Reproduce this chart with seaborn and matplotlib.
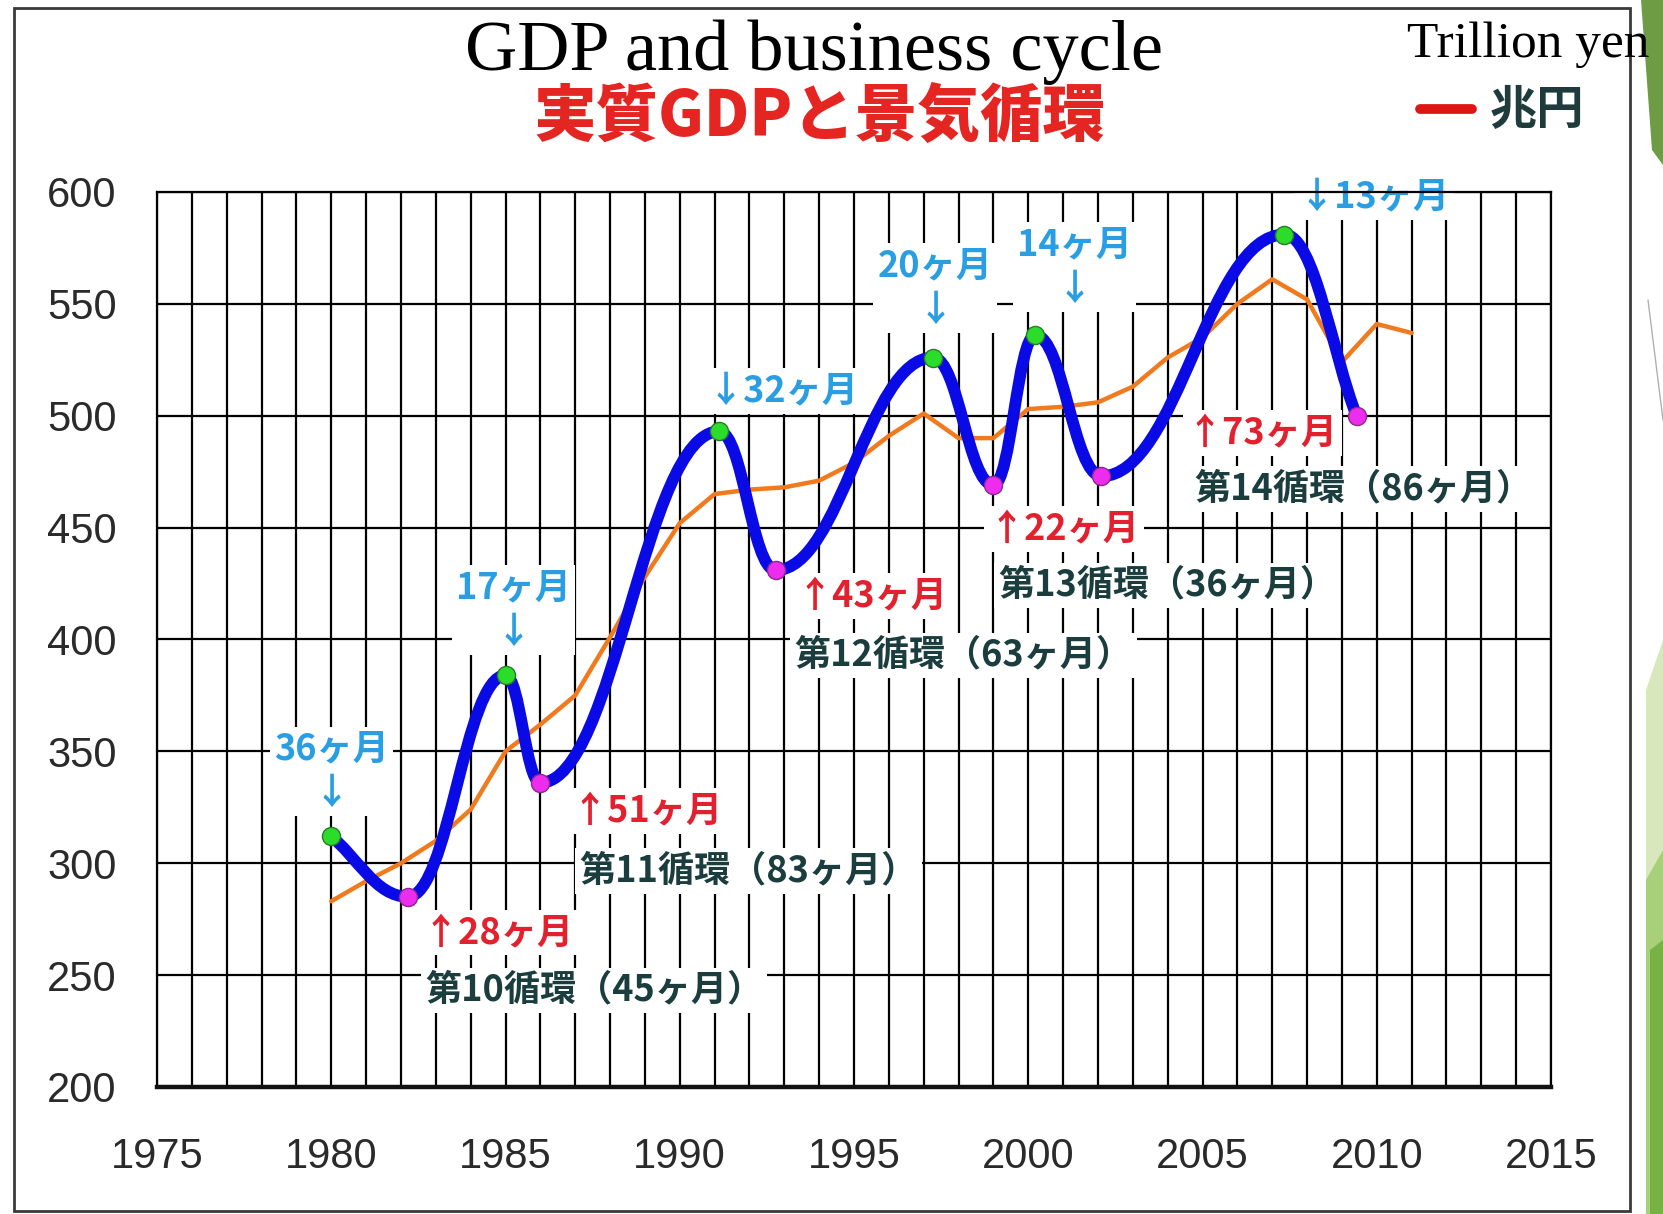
import matplotlib
matplotlib.use("Agg")
import matplotlib.pyplot as plt
import seaborn as sns
from matplotlib.path import Path
from matplotlib.patches import PathPatch, Polygon, Rectangle
from matplotlib.lines import Line2D

# 景気の山と谷 (実質GDP、兆円)
peak_years = [1980.0, 1985.0, 1991.13, 1997.27, 2000.2, 2007.35]
peak_vals = [312, 384, 493, 526, 536, 581]
trough_years = [1982.2, 1986.0, 1992.75, 1999.0, 2002.1, 2009.42]
trough_vals = [285, 336, 431, 469, 473, 500]

# 実質GDP (年次)
gdp_years = list(range(1980, 2012))
gdp_vals = [283, 292, 300, 310, 324, 350, 362, 375, 401, 428, 452, 465,
            467, 468, 471, 479, 491, 501, 490, 490, 503, 504, 506, 513,
            526, 535, 550, 561, 552, 524, 541, 537]

# 拡張期間 (山の上) と 後退期間 (谷の下)
peak_labels = ["36ヶ月\n↓", "17ヶ月\n↓", "↓32ヶ月", "20ヶ月\n↓", "14ヶ月\n↓", "↓13ヶ月"]
trough_labels = ["↑28ヶ月", "↑51ヶ月", "↑43ヶ月", "↑22ヶ月", "↑73ヶ月"]
cycle_labels = ["第10循環（45ヶ月）", "第11循環（83ヶ月）", "第12循環（63ヶ月）",
                "第13循環（36ヶ月）", "第14循環（86ヶ月）"]

W, H = 1663, 1214
sns.set_theme(style="white")
plt.rcParams["font.family"] = ["Noto Sans CJK JP", "DejaVu Sans"]

fig = plt.figure(figsize=(W / 100, H / 100), dpi=100)
ax = fig.add_axes([157 / W, 1 - 1087 / H, (1551 - 157) / W, (1087 - 192) / H])

# 山と谷を交互に並べた青い曲線
pts = sorted(zip(peak_years + trough_years, peak_vals + trough_vals))
k = 0.42
verts = [pts[0]]
codes = [Path.MOVETO]
for i in range(len(pts) - 1):
    (x0, y0), (x1, y1) = pts[i], pts[i + 1]
    dx = x1 - x0
    c1 = (x0 + dx / 3, y0 + (y1 - y0) / 3) if i == 0 else (x0 + k * dx, y0)
    c2 = (x1 - dx / 3, y1 - (y1 - y0) / 3) if i == len(pts) - 2 else (x1 - k * dx, y1)
    verts += [c1, c2, (x1, y1)]
    codes += [Path.CURVE4] * 3

sns.lineplot(x=gdp_years, y=gdp_vals, color="#f07a1e", lw=3.2, ax=ax, zorder=3)
ax.add_patch(PathPatch(Path(verts, codes), fill=False, edgecolor="#0a0ae6",
                       lw=8.5, capstyle="round", joinstyle="round", zorder=4))
sns.scatterplot(x=peak_years, y=peak_vals, color="#2bdc2b", edgecolor="#2a7a2a",
                s=170, linewidth=1, ax=ax, zorder=5)
sns.scatterplot(x=trough_years, y=trough_vals, color="#ee2cee", edgecolor="#8a2a8a",
                s=170, linewidth=1, ax=ax, zorder=5)

box = dict(facecolor="white", edgecolor="none", pad=3)
peak_pos = [(1980.0, 341), (1985.23, 413), (1992.96, 511), (1997.33, 557),
            (2001.33, 566.5), (2009.92, 597.6)]
for (x, y), lab in zip(peak_pos, peak_labels):
    ax.text(x, y, lab, ha="center", va="center", fontsize=26, fontweight="bold",
            color="#2a9ee2", linespacing=1.25, bbox=box, zorder=2.5)

trough_pos = [(1984.8, 269), (1989.06, 323.5), (1995.52, 419.5), (2001.03, 449.4), (2006.72, 492.2)]
for (x, y), lab in zip(trough_pos, trough_labels):
    ax.text(x, y, lab, ha="center", va="center", fontsize=26, fontweight="bold",
            color="#e3202e", bbox=box, zorder=2.5)

cycle_pos = [(1987.54, 243.2), (1991.96, 296.4), (1998.14, 392.9), (2003.98, 424.2), (2009.61, 467.4)]
for (x, y), lab in zip(cycle_pos, cycle_labels):
    ax.text(x, y, lab, ha="center", va="center", fontsize=26, fontweight="bold",
            color="#1b3d3d", bbox=box, zorder=2.5)

ax.set_xlim(1975, 2015)
ax.set_ylim(200, 600)
ax.set_xticks(range(1975, 2016, 5))
ax.set_xticks(range(1975, 2016), minor=True)
ax.set_yticks(range(200, 601, 50))
ax.set_axisbelow(True)
ax.grid(True, which="both", axis="x", color="black", lw=1.6)
ax.grid(True, which="major", axis="y", color="black", lw=1.6)
ax.tick_params(axis="both", which="both", length=0, labelsize=30,
               labelcolor="#2a2a2a", labelfontfamily="Liberation Sans")
ax.tick_params(axis="y", pad=29)
ax.tick_params(axis="x", pad=36)
for side in ["left", "right", "top"]:
    ax.spines[side].set_color("black")
    ax.spines[side].set_linewidth(1.6)
ax.spines["bottom"].set_color("#111111")
ax.spines["bottom"].set_linewidth(3.2)
ax.set_xlabel("")
ax.set_ylabel("")

# 見出し
fig.text(814 / W, 1 - 70 / H, "GDP and business cycle", ha="center", va="baseline",
         fontsize=52, family="Liberation Serif", color="black", zorder=10)
fig.text(819 / W, 1 - 117 / H, "実質GDPと景気循環", ha="center", va="center",
         fontsize=45, fontweight="heavy", color="#e52521")
fig.text(1407 / W, 1 - 45 / H, "Trillion yen", ha="left", va="center",
         fontsize=37, family="Liberation Serif", color="black", zorder=10)
fig.add_artist(Line2D([1420 / W, 1472 / W], [1 - 109 / H, 1 - 109 / H], lw=7,
                      color="#dd1515", solid_capstyle="round", transform=fig.transFigure))
fig.text(1490 / W, 1 - 110 / H, "兆円", ha="left", va="center",
         fontsize=34, fontweight="bold", color="#1f3b3b")

# 外枠とスライドの飾り
fig.add_artist(Rectangle((14 / W, 1 - 1211 / H), (1630 - 14) / W, (1211 - 8) / H,
                         fill=False, edgecolor="#3a3a3a", lw=2, transform=fig.transFigure))
deco = [
    ([(1641, 0), (1663, 0), (1663, 165), (1652, 150)], "#6e9c44"),
    ([(1646, 690), (1663, 640), (1663, 1214), (1646, 1214)], "#d8e8bc"),
    ([(1646, 880), (1663, 850), (1663, 1214), (1646, 1214)], "#a8d07a"),
    ([(1650, 950), (1663, 940), (1663, 1214), (1650, 1214)], "#78b245"),
]
for poly, col in deco:
    fig.add_artist(Polygon([(x / W, 1 - y / H) for x, y in poly], closed=True,
                           facecolor=col, edgecolor="none", transform=fig.transFigure))
fig.add_artist(Line2D([1648 / W, 1663 / W], [1 - 300 / H, 1 - 420 / H], lw=1,
                      color="#b0b0b0", transform=fig.transFigure))

fig.savefig("out.png", dpi=100)
